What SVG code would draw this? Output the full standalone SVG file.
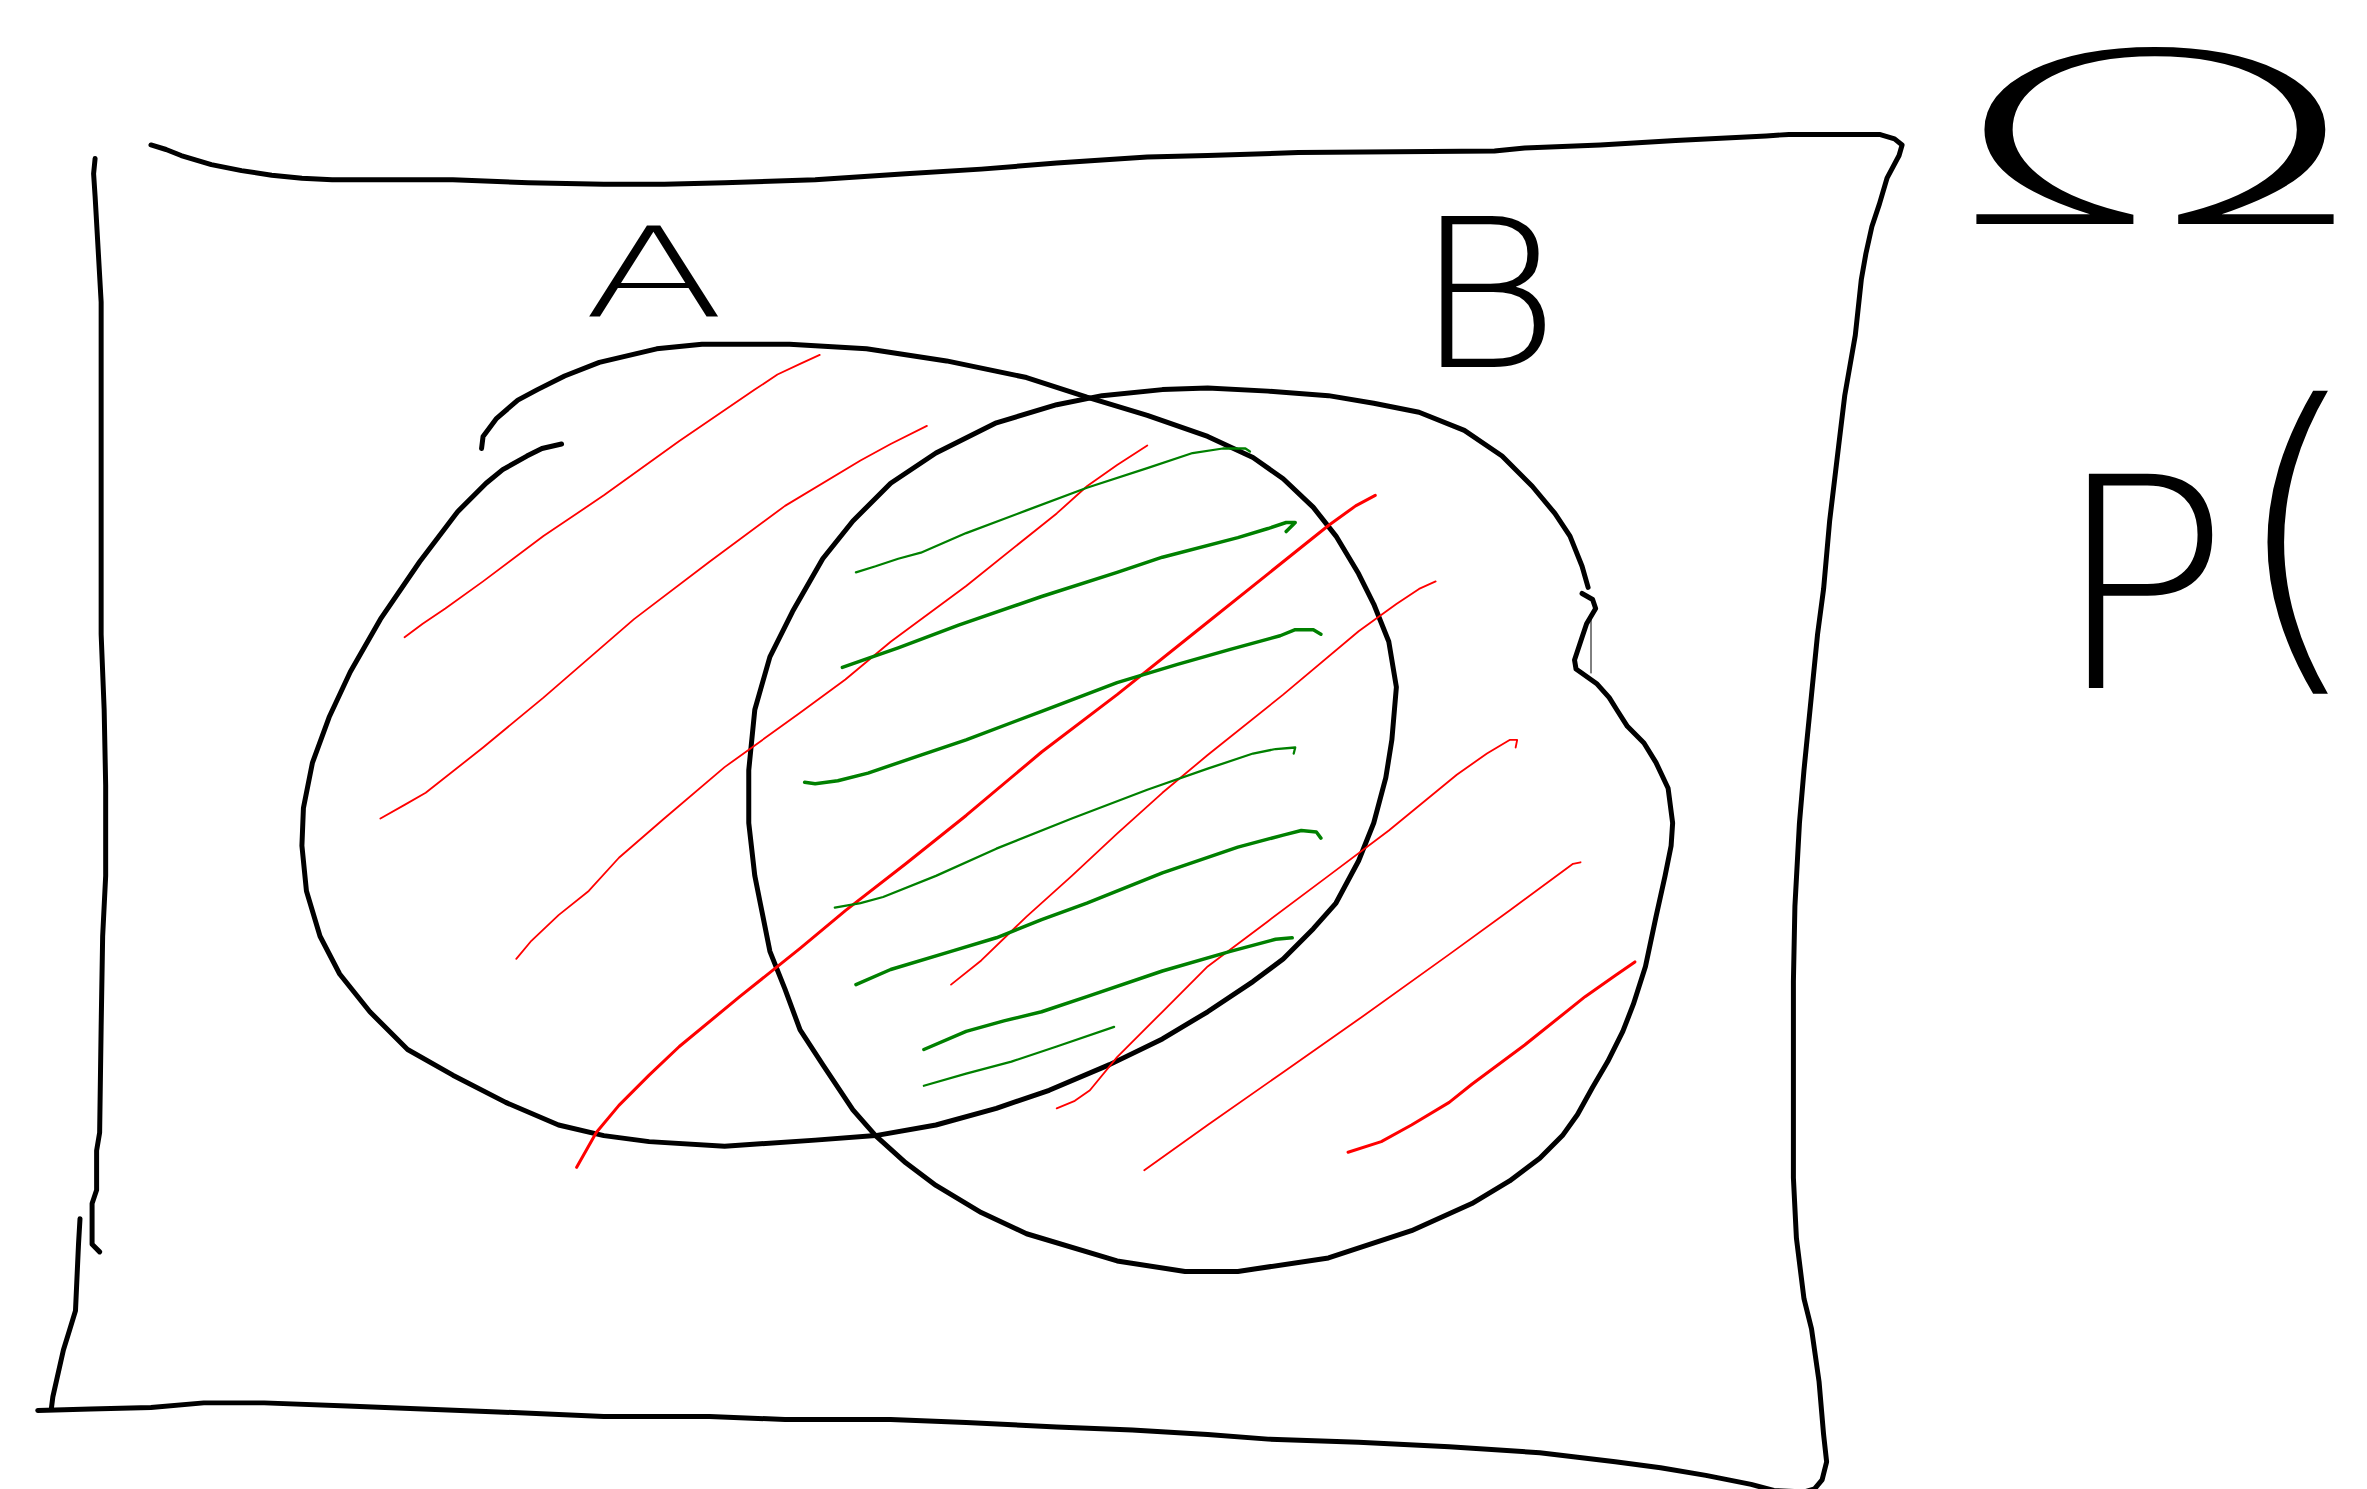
<svg xmlns="http://www.w3.org/2000/svg" width="2367" height="1489" viewBox="0 0 2367 1489">
<style>
.ink{fill:none;stroke:#000;stroke-linecap:round;stroke-linejoin:round;stroke-width:3.3}
.thin{fill:none;stroke:#000;stroke-linecap:round;stroke-width:1}
.red{fill:none;stroke:#ff0000;stroke-linecap:round;stroke-linejoin:round;stroke-width:1.2}
.redb{fill:none;stroke:#ff0000;stroke-linecap:round;stroke-linejoin:round;stroke-width:2}
.grn{fill:none;stroke:#008000;stroke-linecap:round;stroke-linejoin:round;stroke-width:1.5}
.grnb{fill:none;stroke:#008000;stroke-linecap:round;stroke-linejoin:round;stroke-width:2.3}
.hand{font-family:"DejaVu Sans","Liberation Sans",sans-serif;font-weight:200;fill:#000}
</style>
<rect width="2367" height="1489" fill="#fff"/>
<g id="universe">
<path class="ink" transform="scale(1.5096,1.5101)" d="M100,96 L110,99 120,103 130,106 140,109 160,113 180,116 200,118 220,119 300,119 350,121 400,122 440,122 480,121 540,119 600,115 650,112 700,108 760,104 800,103 860,101 990,100 1010,98 1060,96 1110,93 1170,90 1185,89 1245,89 1255,92 1260,96 1258,103 1250,118 1245,135 1240,150 1236,168 1233,185 1229,222 1222,262 1218,295 1212,345 1208,390 1204,420 1200,460 1195,510 1192,545 1189,600 1188,650 1188,780 1190,820 1195,860 1200,880 1205,915 1208,950 1210,968 1207,980 1202,986 1195,988 1175,987 1160,983 1130,977 1100,972 1070,968 1020,962 960,958 900,955 840,953 800,950 750,947 700,945 640,942 590,940 520,940 470,938 400,938 330,935 280,933 230,931 175,929 135,929 100,932 60,933 25,934"/>
<path class="ink" transform="scale(1.5096,1.5101)" d="M63,105 L62,115 63,130 65,165 67,200 67,420 69,470 70,520 70,580 68,620 67,680 66,750 64,762 64,788 61,797 61,824 66,829"/>
<path class="ink" transform="scale(1.5096,1.5101)" d="M53,807 L52,824 50,868 46,881 42,894 35,925 34,933"/>
<text class="hand" x="1945" y="224" font-size="238" textLength="420" lengthAdjust="spacingAndGlyphs">Ω</text>
</g>
<g id="setA">
<path class="ink" transform="scale(1.5096,1.5101)" d="M372,294 L359,297 349,302 333,311 322,320 303,339 278,372 252,410 232,445 218,475 207,505 201,535 200,560 203,590 212,620 225,645 245,670 270,695 300,712 335,730 370,745 400,752 430,756 480,759 540,755 580,752 620,745 660,734 695,722 735,705 770,688 800,670 830,650 850,635 870,615 885,598 900,570 910,545 918,515 922,490 925,455 920,425 910,400 900,380 885,355 870,336 850,317 830,303 800,289 760,275 720,263 680,250 627,239 574,231 523,228 465,228 435,231 397,240 374,249 356,258 343,265 329,277 320,289 319,297"/>
<text class="hand" x="583" y="317" font-size="124" textLength="142" lengthAdjust="spacingAndGlyphs">A</text>
</g>
<g id="setB">
<path class="ink" transform="scale(1.5096,1.5101)" d="M1048,393 L1055,397 1057,403 1051,413 1048,422 1043,437 1044,443 1058,453 1066,462 1071,470 1078,481 1089,492 1097,505 1105,522 1108,545 1107,560 1103,580 1097,607 1090,640 1082,665 1075,683 1065,703 1055,720 1045,738 1035,752 1020,767 1000,782 975,797 935,815 880,833 820,842 785,842 740,835 680,817 650,803 620,785 600,770 580,752 565,735 545,705 530,682 520,655 510,630 505,605 500,580 496,545 496,510 500,470 510,435 525,405 545,370 565,345 590,320 620,300 660,280 700,268 730,262 770,258 800,257 840,259 880,262 910,267 940,273 970,285 995,302 1015,322 1030,340 1040,355 1048,375 1052,389"/>
<path class="thin" d="M1591,615 L1591,673"/>
<text class="hand" x="1414" y="367" font-size="207" textLength="146" lengthAdjust="spacingAndGlyphs">B</text>
</g>
<g id="probability">
<text class="hand" x="2053" y="688" font-size="294">P<tspan dy="-39" font-size="340">(</tspan></text>
</g>
<g id="hatching" transform="scale(1.5096,1.5101)">
<path class="red" d="M268,422 L280,413 295,403 320,385 360,355 400,328 450,292 500,258 515,248 530,241 543,235"/>
<path class="red" d="M252,542 L268,533 282,525 320,495 360,462 420,410 470,372 520,335 570,305 590,294 614,282"/>
<path class="red" d="M342,635 L352,623 370,606 390,590 410,568 440,542 480,508 530,472 560,450 590,425 640,388 700,340 720,322 740,308 760,295"/>
<path class="redb" d="M382,773 L395,750 410,732 430,712 450,693 490,660 530,628 560,603 600,572 640,540 690,498 740,460 790,420 840,380 880,348 898,335 911,328"/>
<path class="red" d="M630,652 L650,636 680,607 710,580 740,552 770,525 800,500 850,460 900,418 925,400 940,390 951,385"/>
<path class="red" d="M700,734 L712,729 722,722 740,700 770,670 800,640 840,610 880,580 920,550 965,513 985,499 1000,490 1005,490 1004,495"/>
<path class="red" d="M758,775 L800,745 850,710 900,675 960,632 1000,603 1042,572 1047,571"/>
<path class="redb" d="M893,763 L915,756 935,745 960,730 975,718 1010,692 1050,660 1070,646 1083,637"/>
<path class="grn" d="M567,379 L580,375 595,370 610,366 640,353 680,338 720,323 760,310 790,300 810,297 825,297 828,299"/>
<path class="grnb" d="M558,442 L575,436 595,429 635,414 690,395 740,379 770,369 820,356 840,350 852,346 858,346 852,352"/>
<path class="grnb" d="M533,518 L540,519 555,517 575,512 610,500 640,490 690,471 740,452 780,440 815,430 848,421 858,417 870,417 875,420"/>
<path class="grn" d="M553,601 L570,598 585,594 620,580 660,562 710,542 760,523 800,509 830,499 845,496 858,495 857,499"/>
<path class="grnb" d="M567,652 L590,642 630,630 660,621 690,609 720,598 770,578 820,561 850,553 862,550 872,551 875,555"/>
<path class="grnb" d="M612,695 L640,683 665,676 690,670 720,660 770,643 815,630 845,622 856,621"/>
<path class="grn" d="M612,719 L640,711 670,703 700,693 738,680"/>
</g>
</svg>
